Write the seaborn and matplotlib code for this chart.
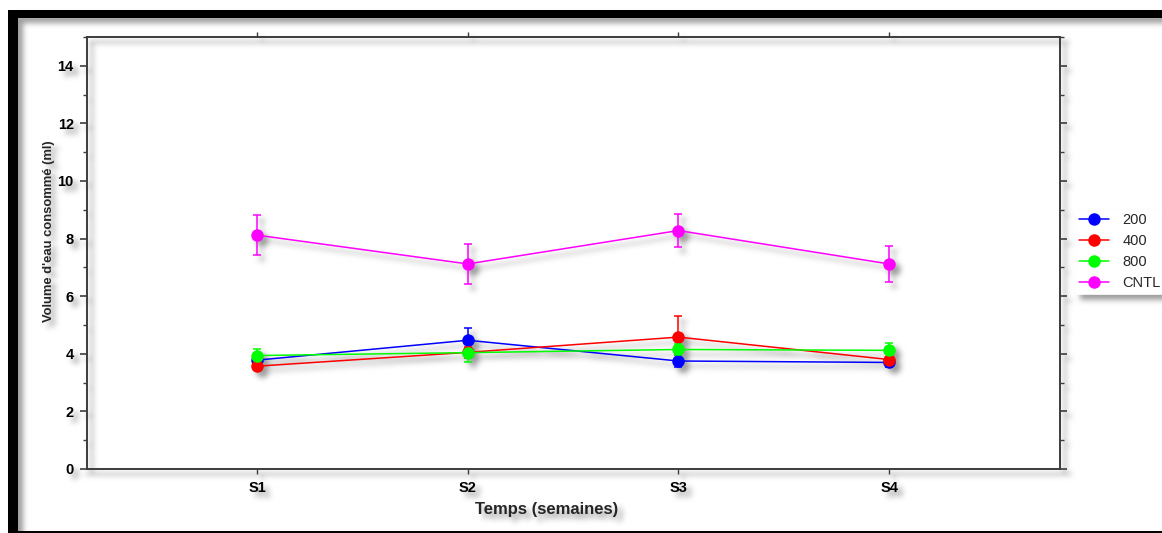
import numpy as np
import pandas as pd
import matplotlib
matplotlib.use("Agg")
import matplotlib.pyplot as plt
from matplotlib.patches import Rectangle
from matplotlib.ticker import MultipleLocator
import seaborn as sns

# Weekly water intake (ml), mean and error per group
weeks = ["S1", "S2", "S3", "S4"]
groups = ["200", "400", "800", "CNTL"]
mean_200 = [3.78, 4.47, 3.75, 3.70]
err_200 = [0.10, 0.44, 0.20, 0.16]
mean_400 = [3.57, 4.05, 4.58, 3.80]
err_400 = [0.08, 0.20, 0.72, 0.10]
mean_800 = [3.94, 4.04, 4.15, 4.12]
err_800 = [0.22, 0.32, 0.20, 0.24]
mean_cntl = [8.12, 7.12, 8.28, 7.12]
err_cntl = [0.70, 0.68, 0.58, 0.63]
colors = ["#0000ff", "#ff0000", "#00ff00", "#ff00ff"]

means = [mean_200, mean_400, mean_800, mean_cntl]
errs = [err_200, err_400, err_800, err_cntl]

df = pd.DataFrame({
    "Semaine": weeks * len(groups),
    "Volume": np.concatenate(means),
    "Groupe": np.repeat(groups, len(weeks)),
})


def _blur(a, sigma):
    r = int(3 * sigma) + 1
    k = np.exp(-0.5 * (np.arange(-r, r + 1) / sigma) ** 2)
    k /= k.sum()
    ny, nx = a.shape
    p = np.pad(a, ((0, 0), (r, r)))
    h = sum(k[i] * p[:, i:i + nx] for i in range(2 * r + 1))
    p = np.pad(h, ((r, r), (0, 0)))
    return sum(k[i] * p[i:i + ny, :] for i in range(2 * r + 1))


class DropShadow:
    """agg filter: puts a soft grey shadow under everything the artist draws."""

    def __init__(self, sigma=2.8, alpha=0.6, dx=5, dy=5, grey=0.35):
        self.sigma, self.alpha = sigma, alpha
        self.dx, self.dy, self.grey = dx, dy, grey

    def __call__(self, im, dpi):
        pad = int(3 * self.sigma) + max(self.dx, self.dy) + 2
        o = np.pad(im, ((pad, pad), (pad, pad), (0, 0)))
        sa = _blur(o[..., 3], self.sigma)
        sa = np.roll(np.roll(sa, self.dy, axis=0), self.dx, axis=1)
        sa = np.clip(sa * self.alpha, 0, 1)
        oa = o[..., 3]
        out_a = oa + sa * (1 - oa)
        safe = np.where(out_a > 0, out_a, 1)
        out = np.empty_like(o)
        for c in range(3):
            out[..., c] = (o[..., c] * oa + self.grey * sa * (1 - oa)) / safe
        out[..., 3] = out_a
        return np.clip(out, 0, 1), -pad, -pad


sns.set_style("ticks")
plt.rcParams["font.family"] = ["Liberation Sans", "DejaVu Sans"]

fig = plt.figure(figsize=(11.62, 5.33), dpi=100, facecolor="white")
ax = fig.add_axes([87 / 1162, 64 / 533, 973 / 1162, 432 / 533])
ax.set_facecolor("none")

sns.lineplot(data=df, x="Semaine", y="Volume", hue="Groupe",
             hue_order=groups, palette=colors, marker="o", markersize=9,
             markeredgewidth=0, linewidth=1.1, ax=ax)

for m, e, c in zip(means, errs, colors):
    ax.errorbar(weeks, m, yerr=e, fmt="none", ecolor=c, elinewidth=1.1,
                capsize=2.6, capthick=1.1, zorder=1.9)

ax.set_xlim(-0.807, 3.811)
ax.set_ylim(0, 15)
ax.yaxis.set_major_locator(MultipleLocator(2))
ax.yaxis.set_minor_locator(MultipleLocator(1))
ax.set_yticks(np.arange(0, 15, 2))

spine_col = "#3c3c3c"
for s in ax.spines.values():
    s.set_visible(True)
    s.set_color(spine_col)
    s.set_linewidth(1.4)

ax.tick_params(axis="y", which="major", direction="out", length=5, width=1.2,
               colors=spine_col, labelcolor="black", left=True, right=True,
               labelsize=10.5, pad=4.5)
ax.tick_params(axis="y", which="minor", direction="out", length=3, width=1.0,
               colors=spine_col, left=True, right=True)
ax.tick_params(axis="x", which="major", direction="out", length=3.5, width=1.0,
               colors=spine_col, labelcolor="black", bottom=True, top=True,
               labelsize=10.5, pad=5.5)
for lab in ax.get_xticklabels() + ax.get_yticklabels():
    lab.set_fontweight("bold")

ax.set_xlabel("Temps (semaines)", fontsize=12, fontweight="bold")
ax.set_ylabel("Volume d'eau consommé (ml)", fontsize=9.4, fontweight="bold")
ax.xaxis.set_label_coords((547 - 87) / 973, (469 - 502) / 432)
ax.yaxis.set_label_coords((55 - 87) / 973, (469 - 231) / 432)

sns.move_legend(ax, "upper left", bbox_to_anchor=(1.0155, 0.6),
                title=None, frameon=True, fontsize=10.5, borderaxespad=0,
                handlelength=2.1, handletextpad=0.9, labelspacing=0.48,
                borderpad=0.25, fancybox=False, framealpha=1.0)
leg = ax.get_legend()
leg.get_frame().set_edgecolor("white")
leg.get_frame().set_linewidth(0.5)

# outer black frame (left bar, top bar and thin bottom rule)
frame_kw = dict(transform=fig.transFigure, facecolor="black",
                edgecolor="none", clip_on=False)
ax.add_artist(Rectangle((8 / 1162, 0), 10 / 1162, 523 / 533, **frame_kw))
ax.add_artist(Rectangle((8 / 1162, 515 / 533), 1154 / 1162, 8 / 533, **frame_kw))
ax.add_artist(Rectangle((8 / 1162, 0), 1154 / 1162, 2 / 533, **frame_kw))

ax.set_agg_filter(DropShadow())

fig.savefig("out.png", dpi=100, facecolor="white")
